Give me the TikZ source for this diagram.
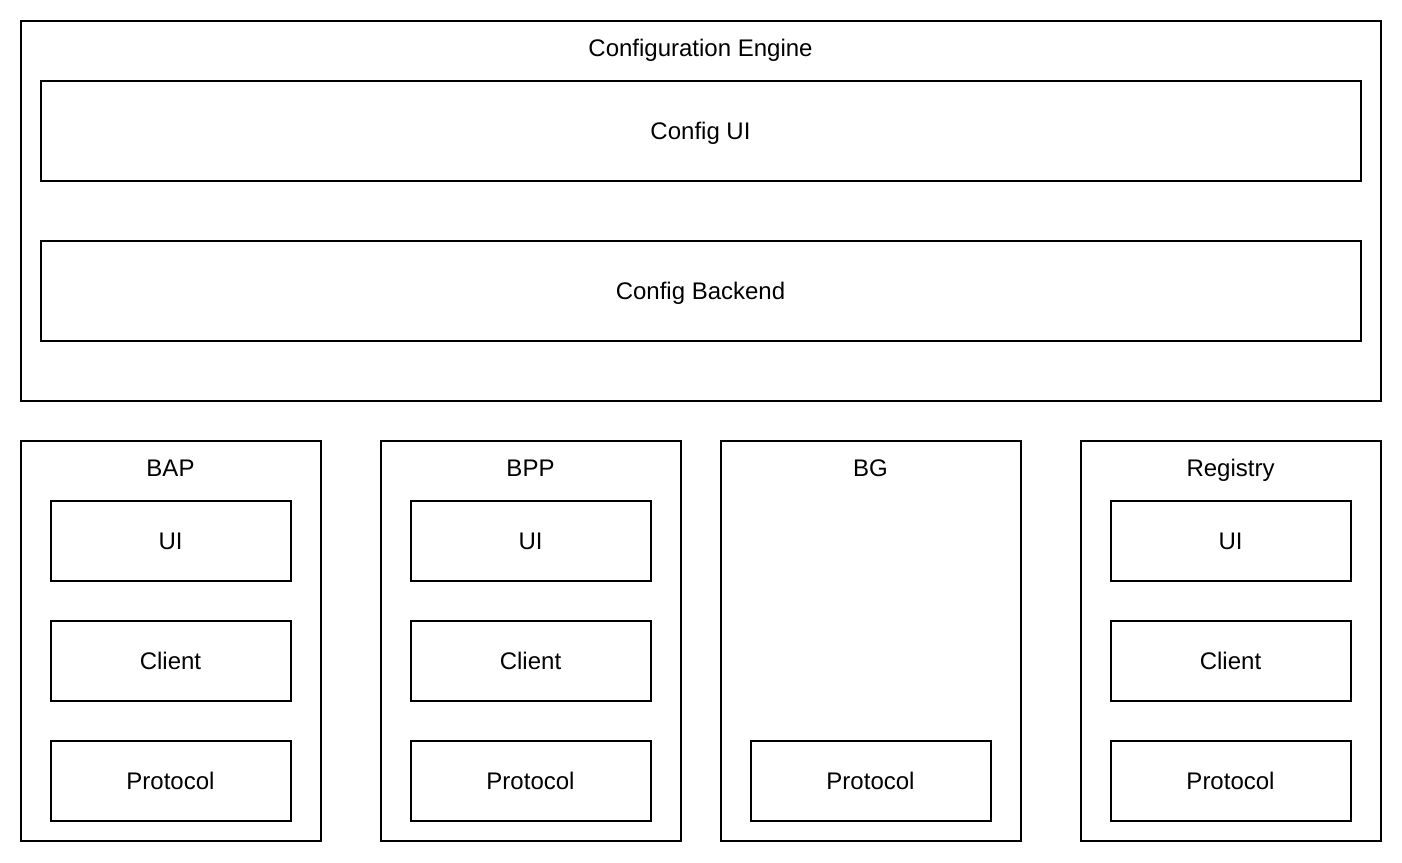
\documentclass[tikz,border=0pt]{standalone}
\usepackage{fontspec}
\setmainfont{Liberation Sans}
\usepackage{tikz}

\tikzset{
	block/.style={draw,line width=1pt,inner sep=0pt,text height=8.6pt,text depth=0pt,minimum width=120pt,minimum height=40pt},
	group/.style={draw,line width=1pt,inner sep=0pt,minimum width=150pt,minimum height=200pt},
	wide/.style={draw,line width=1pt,inner sep=0pt,text height=8.6pt,text depth=0pt,minimum width=660pt,minimum height=50pt},
	title/.style={inner sep=0pt,text height=8.6pt,text depth=0pt}
}

\begin{document}
\begin{tikzpicture}[x=0.5pt,y=-0.5pt,font=\fontsize{12}{14}\selectfont]
	\useasboundingbox (0,0) rectangle (1402,862);
	
	%configuration engine
	\node[draw,line width=1pt,minimum width=680pt,minimum height=190pt] (engine) at (700.5,210.5) {};
	\node[title] (enginetitle) at (700.5,47.5) {Configuration Engine};
	\node[wide] (cfgui) at (700.5,130.5) {Config UI};
	\node[wide] (cfgbackend) at (700.5,290.5) {Config Backend};
	
	%BAP
	\node[group] (bap) at (170.5,640.5) {};
	\node[title] (baptitle) at (170.5,467.5) {BAP};
	\node[block] (bapui) at (170.5,540.5) {UI};
	\node[block] (bapclient) at (170.5,660.5) {Client};
	\node[block] (bapprotocol) at (170.5,780.5) {Protocol};
	
	%BPP
	\node[group] (bpp) at (530.5,640.5) {};
	\node[title] (bpptitle) at (530.5,467.5) {BPP};
	\node[block] (bppui) at (530.5,540.5) {UI};
	\node[block] (bppclient) at (530.5,660.5) {Client};
	\node[block] (bppprotocol) at (530.5,780.5) {Protocol};
	
	%BG
	\node[group] (bg) at (870.5,640.5) {};
	\node[title] (bgtitle) at (870.5,467.5) {BG};
	\node[block] (bgprotocol) at (870.5,780.5) {Protocol};
	
	%registry
	\node[group] (registry) at (1230.5,640.5) {};
	\node[title] (registrytitle) at (1230.5,467.5) {Registry};
	\node[block] (registryui) at (1230.5,540.5) {UI};
	\node[block] (registryclient) at (1230.5,660.5) {Client};
	\node[block] (registryprotocol) at (1230.5,780.5) {Protocol};
\end{tikzpicture}
\end{document}
